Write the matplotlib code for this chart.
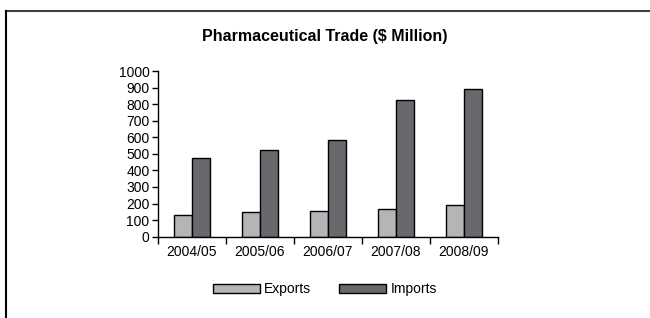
import numpy as np
import matplotlib
matplotlib.use('Agg')
import matplotlib.pyplot as plt
from matplotlib.lines import Line2D

plt.rcParams['font.family'] = ['Liberation Sans', 'DejaVu Sans']

# datos
years = ['2004/05', '2005/06', '2006/07', '2007/08', '2008/09']
exports = [131, 151, 157, 167, 189]
imports = [477, 523, 585, 827, 889]

fig = plt.figure(figsize=(6.5, 3.18), dpi=100)
ax = fig.add_axes([0.243, 0.2557, 0.523, 0.521])

x = np.arange(len(years))
w = 0.265
ax.bar(x - w / 2, exports, w, color='#b3b5b7', edgecolor='black', linewidth=1, label='Exports')
ax.bar(x + w / 2, imports, w, color='#68696d', edgecolor='black', linewidth=1, label='Imports')

ax.set_xlim(-0.5, len(years) - 0.5)
ax.set_ylim(0, 1000)
ax.set_yticks(range(0, 1001, 100))
ax.set_xticks(x)
ax.set_xticklabels(years)
ax.set_xticks(np.arange(-0.5, len(years), 1), minor=True)
ax.tick_params(axis='x', which='major', length=0, labelsize=10, pad=6)
ax.tick_params(axis='x', which='minor', length=5, width=1, direction='out')
ax.tick_params(axis='y', length=4, width=1, labelsize=10, pad=2)

for s in ['top', 'right']:
    ax.spines[s].set_visible(False)
ax.spines['left'].set_linewidth(1)
ax.spines['bottom'].set_linewidth(1)

fig.text(0.5, 0.884, 'Pharmaceutical Trade ($ Million)', ha='center', va='center',
         fontsize=11.5, fontweight='bold')

fig.legend(loc='center', bbox_to_anchor=(0.5, 0.09), ncol=2, frameon=False,
           fontsize=10, handlelength=3.4, handleheight=0.7, columnspacing=2,
           handletextpad=0.3)

# marco de la figura
fig.add_artist(Line2D([0.0092, 1], [0.965, 0.965], color='#404040', linewidth=1.5))
fig.add_artist(Line2D([0.0092, 0.0092], [0, 0.965], color='black', linewidth=1.5))

fig.savefig('out.png', dpi=100)
